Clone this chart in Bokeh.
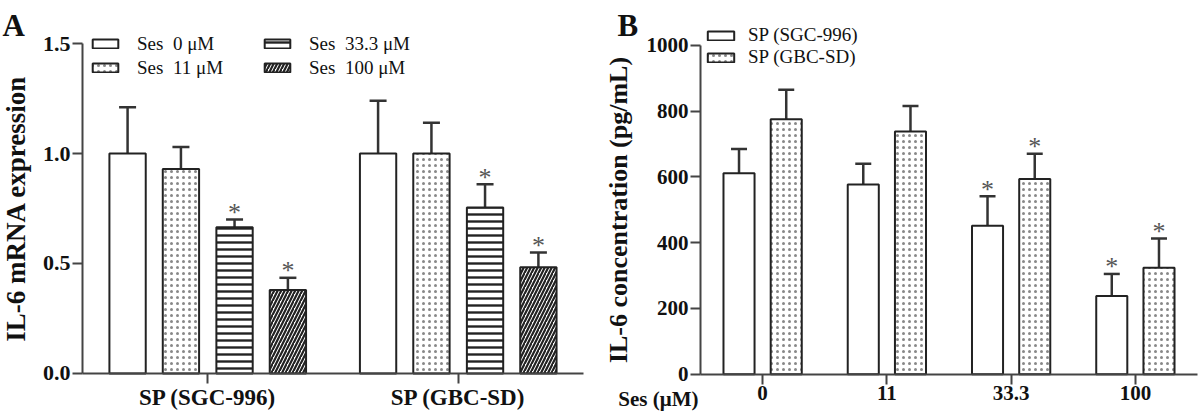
from bokeh.plotting import figure
from bokeh.models import (ColumnDataSource, Range1d, FixedTicker, Legend,
                          LegendItem, Label, NumeralTickFormatter)
from bokeh.layouts import row
from bokeh.embed import file_html
from bokeh.resources import INLINE

# ---------------- data ----------------
# Panel A: IL-6 mRNA expression
a_groups = ["SP (SGC-996)", "SP (GBC-SD)"]
a_doses = ["Ses  0 μM", "Ses  11 μM", "Ses  33.3 μM", "Ses  100 μM"]
a_sgc_mean = [1.00, 0.93, 0.665, 0.38]
a_sgc_sd = [0.21, 0.10, 0.035, 0.055]
a_gbc_mean = [1.00, 1.00, 0.755, 0.483]
a_gbc_sd = [0.24, 0.14, 0.105, 0.067]
a_sig = [False, False, True, True]

# Panel B: IL-6 concentration
b_doses = ["0", "11", "33.3", "100"]
b_series = ["SP (SGC-996)", "SP (GBC-SD)"]
b_sgc_mean = [611, 577, 452, 238]
b_sgc_sd = [74, 63, 89, 67]
b_gbc_mean = [776, 738, 594, 324]
b_gbc_sd = [89, 78, 77, 89]
b_sig = [False, False, True, True]

SERIF = "Liberation Serif"
AXC = "#444444"
TXT = "#111111"

a_styles = [
    dict(fill_color="white"),
    dict(fill_color="white", hatch_pattern="dot", hatch_scale=6, hatch_weight=1.3, hatch_color="#888888"),
    dict(fill_color="white", hatch_pattern="horizontal_line", hatch_scale=7, hatch_weight=2.4, hatch_color="#222222"),
    dict(fill_color="white", hatch_pattern="right_diagonal_line", hatch_scale=7, hatch_weight=2.2, hatch_color="#222222"),
]
b_styles = [a_styles[0], a_styles[1]]


def make_fig(width, height, xr, yr, tick_font):
    p = figure(width=width, height=height, x_range=Range1d(*xr), y_range=Range1d(*yr),
               output_backend="svg", toolbar_location=None, min_border=0)
    p.title.visible = False
    p.xgrid.grid_line_color = None
    p.ygrid.grid_line_color = None
    p.outline_line_color = None
    p.background_fill_color = "white"
    p.border_fill_color = "white"
    for ax in list(p.xaxis) + list(p.yaxis):
        ax.axis_line_width = 2
        ax.axis_line_color = AXC
        ax.major_tick_line_width = 2
        ax.major_tick_line_color = AXC
        ax.major_tick_out = 10
        ax.major_tick_in = 0
        ax.minor_tick_out = 0
        ax.minor_tick_in = 0
        ax.major_label_text_font = SERIF
        ax.major_label_text_font_style = "bold"
        ax.major_label_text_font_size = tick_font
        ax.major_label_text_color = TXT
        ax.axis_label_text_font = SERIF
        ax.axis_label_text_font_style = "bold"
        ax.axis_label_text_color = TXT
    p.xaxis.fixed_location = 0
    p.yaxis.fixed_location = 0
    p.xaxis.major_label_standoff = 2
    p.yaxis.major_label_standoff = 2
    return p


def draw_series(p, n, means, sds, sig, offset, width, style, cap):
    xs = [i + 0.5 + offset for i in range(n)]
    tops = [m + s for m, s in zip(means, sds)]
    src = ColumnDataSource(dict(x=xs, mean=means, top=tops,
                                star=["*" if s else "" for s in sig]))
    p.segment(x0="x", y0="mean", x1="x", y1="top", source=src,
              line_color="#333333", line_width=2.5)
    p.scatter(x="x", y="top", source=src, marker="dash", size=cap,
              line_color="#333333", line_width=2.5)
    r = p.vbar(x="x", top="mean", bottom=0, width=width, source=src,
               line_color="#222222", line_width=2, **style)
    p.text(x="x", y="top", text="star", source=src, text_font=SERIF,
           text_font_size="26px", text_color="#555555", text_align="center",
           text_baseline="alphabetic", y_offset=-7)
    return r


# ---------------- Panel A ----------------
nA = len(a_groups)
pA = make_fig(600, 414, (-0.3273, nA + 0.0679), (-0.1864, 1.6955), "22px")
pA.xaxis.bounds = (0, nA)
pA.yaxis.bounds = (0, 1.5)
pA.xaxis.ticker = FixedTicker(ticks=[i + 0.5 for i in range(nA)])
pA.xaxis.major_label_overrides = {i + 0.5: g for i, g in enumerate(a_groups)}
pA.xaxis.major_label_text_font_size = "23px"
pA.yaxis.ticker = FixedTicker(ticks=[0, 0.5, 1.0, 1.5])
pA.yaxis.formatter = NumeralTickFormatter(format="0.0")
pA.yaxis.axis_label = "IL-6 mRNA expression"
pA.yaxis.axis_label_text_font_size = "27px"
pA.yaxis.axis_label_standoff = 9

a_offsets = [-0.32, -0.107, 0.107, 0.32]
a_renderers = []
for j in range(4):
    means = [a_sgc_mean[j], a_gbc_mean[j]]
    sds = [a_sgc_sd[j], a_gbc_sd[j]]
    sig = [a_sig[j], a_sig[j]]
    a_renderers.append(draw_series(pA, nA, means, sds, sig, a_offsets[j],
                                   0.145, a_styles[j], 17))

legA = Legend(items=[LegendItem(label=a_doses[j], renderers=[a_renderers[j]]) for j in range(4)],
              location=(89, 335), nrows=2, orientation="vertical",
              glyph_width=32, glyph_height=11, label_standoff=16, label_width=123,
              label_height=23, spacing=1, padding=0, margin=0,
              label_text_font=SERIF, label_text_font_size="19px", label_text_color=TXT,
              border_line_color=None, background_fill_alpha=0)
pA.add_layout(legA)
pA.add_layout(Label(x=2, y=389, x_units="screen", y_units="screen", text="A",
                    text_font=SERIF, text_font_style="bold", text_font_size="31px",
                    text_baseline="alphabetic", text_color=TXT))

# ---------------- Panel B ----------------
nB = len(b_doses)
pB = make_fig(600, 414, (-0.8048, nB + 0.0241), (-122.6, 1136.9), "21px")
pB.xaxis.bounds = (0, nB)
pB.yaxis.bounds = (0, 1000)
pB.xaxis.ticker = FixedTicker(ticks=[i + 0.5 for i in range(nB)])
pB.xaxis.major_label_overrides = {i + 0.5: d for i, d in enumerate(b_doses)}
pB.yaxis.ticker = FixedTicker(ticks=[0, 200, 400, 600, 800, 1000])
pB.yaxis.axis_label = "IL-6 concentration (pg/mL)"
pB.yaxis.axis_label_text_font_size = "26px"
pB.yaxis.axis_label_standoff = 11

b_offsets = [-0.19, 0.19]
b_means = [b_sgc_mean, b_gbc_mean]
b_sds = [b_sgc_sd, b_gbc_sd]
b_renderers = []
for k in range(2):
    b_renderers.append(draw_series(pB, nB, b_means[k], b_sds[k], b_sig,
                                   b_offsets[k], 0.25, b_styles[k], 16))

legB = Legend(items=[LegendItem(label=b_series[k], renderers=[b_renderers[k]]) for k in range(2)],
              location=(104, 346), orientation="vertical",
              glyph_width=33, glyph_height=11, label_standoff=11,
              label_height=18, spacing=-3, padding=0, margin=0,
              label_text_font=SERIF, label_text_font_size="19px", label_text_color=TXT,
              border_line_color=None, background_fill_alpha=0)
pB.add_layout(legB)
pB.add_layout(Label(x=17, y=389, x_units="screen", y_units="screen", text="B",
                    text_font=SERIF, text_font_style="bold", text_font_size="31px",
                    text_baseline="alphabetic", text_color=TXT))
pB.add_layout(Label(x=98, y=16, x_units="screen", y_units="screen", text="Ses (μM)",
                    text_font=SERIF, text_font_style="bold", text_font_size="21px",
                    text_baseline="alphabetic", text_align="right", text_color=TXT))

layout = row(pA, pB)
open("out.html", "w").write(file_html(layout, INLINE))
